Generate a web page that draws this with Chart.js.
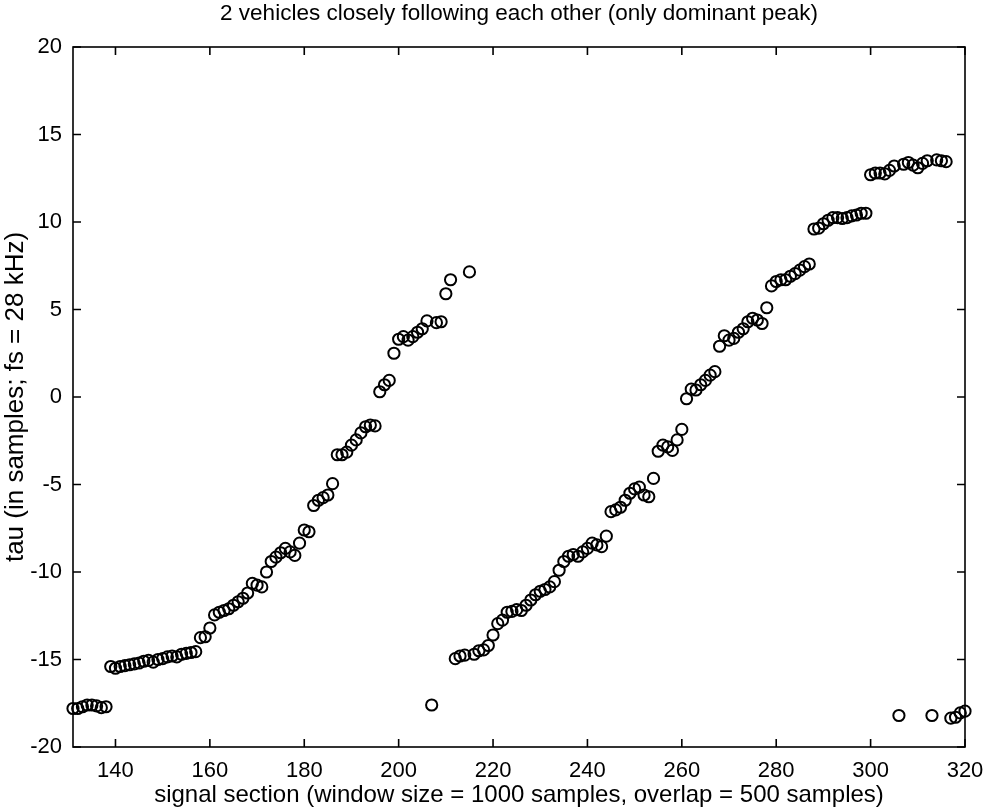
<!DOCTYPE html>
<html>
<head>
<meta charset="utf-8">
<title>tau per signal section</title>
<script src="https://cdn.jsdelivr.net/npm/chart.js@4/dist/chart.umd.min.js"></script>
<style>
  html, body { margin: 0; padding: 0; background: #fff; }
  #wrap { width: 985px; height: 810px; }
</style>
</head>
<body>
<div id="wrap"><canvas id="chart" width="985" height="810"></canvas></div>
<script>
// Signal section index (window size 1000 samples, overlap 500 samples)
const sections = [
  131,132,133,134,135,136,137,138,139,140,141,142,143,144,145,146,147,148,149,150,
  151,152,153,154,155,156,157,158,159,160,161,162,163,164,165,166,167,168,169,170,
  171,172,173,174,175,176,177,178,179,180,181,182,183,184,185,186,187,188,189,190,
  191,192,193,194,195,196,197,198,199,200,201,202,203,204,205,206,207,208,209,210,
  211,212,213,214,215,216,217,218,219,220,221,222,223,224,225,226,227,228,229,230,
  231,232,233,234,235,236,237,238,239,240,241,242,243,244,245,246,247,248,249,250,
  251,252,253,254,255,256,257,258,259,260,261,262,263,264,265,266,267,268,269,270,
  271,272,273,274,275,276,277,278,279,280,281,282,283,284,285,286,287,288,289,290,
  291,292,293,294,295,296,297,298,299,300,301,302,303,304,305,306,307,308,309,310,
  311,312,313,314,315,316,317,318,319,320
];

// Lag of the dominant cross-correlation peak, in samples (fs = 28 kHz)
const tau = [
  -17.8,-17.8,-17.7,-17.6,-17.6,-17.65,-17.75,-17.7,-15.4,-15.5,
  -15.4,-15.35,-15.3,-15.25,-15.2,-15.1,-15.05,-15.15,-15.0,-14.95,
  -14.85,-14.8,-14.85,-14.7,-14.65,-14.6,-14.55,-13.75,-13.7,-13.2,
  -12.45,-12.3,-12.2,-12.1,-11.9,-11.7,-11.5,-11.2,-10.65,-10.75,
  -10.85,-10.0,-9.4,-9.15,-8.9,-8.65,-8.85,-9.05,-8.35,-7.6,
  -7.7,-6.2,-5.9,-5.75,-5.6,-4.95,-3.3,-3.3,-3.15,-2.75,
  -2.45,-2.05,-1.7,-1.6,-1.65,0.3,0.7,0.95,2.5,3.3,
  3.45,3.25,3.45,3.7,3.9,4.35,-17.6,4.25,4.3,5.9,
  6.7,-14.95,-14.8,-14.75,7.15,-14.7,-14.5,-14.45,-14.2,-13.6,
  -12.95,-12.75,-12.3,-12.25,-12.15,-12.2,-11.9,-11.6,-11.3,-11.1,
  -11.0,-10.85,-10.55,-9.9,-9.4,-9.1,-9.0,-9.1,-8.85,-8.65,
  -8.35,-8.45,-8.55,-7.95,-6.55,-6.45,-6.3,-5.9,-5.5,-5.25,
  -5.15,-5.6,-5.7,-4.65,-3.1,-2.75,-2.85,-3.05,-2.45,-1.85,
  -0.1,0.45,0.4,0.7,0.95,1.25,1.45,2.9,3.5,3.25,
  3.35,3.7,3.9,4.3,4.5,4.4,4.2,5.1,6.35,6.6,
  6.7,6.7,6.9,7.05,7.25,7.45,7.6,9.6,9.65,9.9,
  10.1,10.25,10.25,10.2,10.25,10.35,10.4,10.5,10.5,12.7,
  12.8,12.8,12.75,12.95,13.2,-18.2,13.3,13.4,13.25,13.1,
  13.35,13.5,-18.2,13.55,13.5,13.45,-18.35,-18.3,-18.05,-17.95
];

const xTickStep = 20;
const yTicks = [-20, -15, -10, -5, 0, 5, 10, 15, 20];

const FONT = "'Liberation Sans', Arial, Helvetica, sans-serif";
const TICK_LEN = 8;

// Box around the axes with inward-pointing tick marks on all four sides
const boxedAxes = {
  id: 'boxedAxes',
  afterDatasetsDraw(chart) {
    const { ctx, chartArea: a, scales: { x, y } } = chart;
    ctx.save();
    ctx.strokeStyle = '#000';
    ctx.lineWidth = 1.6;
    ctx.strokeRect(a.left, a.top, a.right - a.left, a.bottom - a.top);
    ctx.beginPath();
    x.ticks.forEach(t => {
      const px = x.getPixelForValue(t.value);
      ctx.moveTo(px, a.bottom); ctx.lineTo(px, a.bottom - TICK_LEN);
      ctx.moveTo(px, a.top); ctx.lineTo(px, a.top + TICK_LEN);
    });
    y.ticks.forEach(t => {
      const py = y.getPixelForValue(t.value);
      ctx.moveTo(a.left, py); ctx.lineTo(a.left + TICK_LEN, py);
      ctx.moveTo(a.right, py); ctx.lineTo(a.right - TICK_LEN, py);
    });
    ctx.stroke();
    ctx.restore();
  }
};

const points = sections.map((s, i) => ({ x: s, y: tau[i] }));

new Chart(document.getElementById('chart'), {
  type: 'scatter',
  data: {
    datasets: [{
      data: points,
      pointStyle: 'circle',
      pointRadius: 5.6,
      pointBorderWidth: 2,
      pointBorderColor: '#000',
      pointBackgroundColor: 'rgba(0,0,0,0)',
      clip: false
    }]
  },
  options: {
    responsive: false,
    animation: false,
    events: [],
    layout: { padding: { left: 0, right: 20, top: 0, bottom: 0 } },
    plugins: {
      legend: { display: false },
      tooltip: { enabled: false },
      title: {
        display: true,
        fullSize: false,
        text: '2 vehicles closely following each other (only dominant peak)',
        color: '#000',
        font: { family: FONT, size: 22.5, weight: 'normal', lineHeight: 1.2 },
        padding: { top: 0, bottom: 20 }
      }
    },
    scales: {
      x: {
        type: 'linear',
        min: 131,
        max: 320,
        grid: { display: false, drawTicks: false },
        border: { display: false },
        ticks: {
          stepSize: xTickStep,
          includeBounds: false,
          padding: 11,
          color: '#000',
          maxRotation: 0,
          font: { family: FONT, size: 22 }
        },
        title: {
          display: true,
          text: 'signal section (window size = 1000 samples, overlap = 500 samples)',
          color: '#000',
          font: { family: FONT, size: 24 },
          padding: { top: 0, bottom: 0 }
        },
        afterFit(scale) {
          scale.height = 63;
          scale.paddingLeft = 0;
          scale.paddingRight = 10;
        }
      },
      y: {
        type: 'linear',
        min: -20,
        max: 20,
        grid: { display: false, drawTicks: false },
        border: { display: false },
        afterBuildTicks(scale) { scale.ticks = yTicks.map(v => ({ value: v })); },
        ticks: {
          padding: 11,
          color: '#000',
          font: { family: FONT, size: 22 }
        },
        title: {
          display: true,
          text: 'tau (in samples; fs = 28 kHz)',
          color: '#000',
          font: { family: FONT, size: 26 },
          padding: { top: 0, bottom: 0 }
        },
        afterFit(scale) { scale.width = 73; }
      }
    }
  },
  plugins: [boxedAxes]
});
</script>
</body>
</html>
